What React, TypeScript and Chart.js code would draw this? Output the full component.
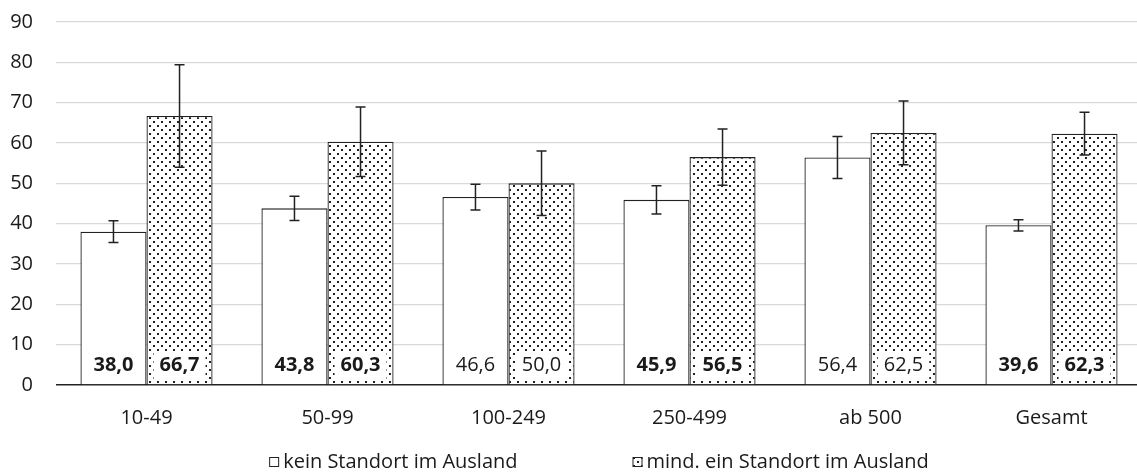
import React, { useEffect, useRef } from 'react';
import { Chart, registerables } from 'chart.js';

Chart.register(...registerables);

const categories = ['10-49', '50-99', '100-249', '250-499', 'ab 500', 'Gesamt'];
const seriesLabels = ['kein Standort im Ausland', 'mind. ein Standort im Ausland'];
const keinValues = [38.0, 43.8, 46.6, 45.9, 56.4, 39.6];
const mindValues = [66.7, 60.3, 50.0, 56.5, 62.5, 62.3];
const keinErrors = [2.7, 3.0, 3.2, 3.5, 5.2, 1.4];
const mindErrors = [12.7, 8.6, 8.0, 7.0, 7.9, 5.3];
const keinBold = [true, true, false, true, false, true];
const mindBold = [true, true, false, true, false, true];
const yMin = 0;
const yMax = 90;
const yStep = 10;

const FONT = '"Open Sans", "Noto Sans", sans-serif';
const TEXT = '#1a1a1a';

function makePattern(): CanvasPattern | string {
  const c = document.createElement('canvas');
  c.width = 8;
  c.height = 8;
  const g = c.getContext('2d');
  if (!g) return '#fff';
  g.fillStyle = '#ffffff';
  g.fillRect(0, 0, 8, 8);
  g.fillStyle = '#222222';
  g.fillRect(1, 1, 2, 2);
  g.fillRect(5, 5, 2, 2);
  const p = g.createPattern(c, 'repeat');
  return p || '#fff';
}

const fmt = (v: number) => v.toFixed(1).replace('.', ',');

export default function App() {
  const ref = useRef<HTMLCanvasElement | null>(null);

  useEffect(() => {
    if (!ref.current) return;
    const pattern = makePattern();
    const errors = [keinErrors, mindErrors];
    const bolds = [keinBold, mindBold];

    const errorBars = {
      id: 'errorBars',
      afterDatasetsDraw(chart: any) {
        const ctx = chart.ctx;
        const ys = chart.scales.y;
        ctx.save();
        ctx.strokeStyle = '#222';
        ctx.lineWidth = 1.5;
        chart.data.datasets.forEach((ds: any, di: number) => {
          const meta = chart.getDatasetMeta(di);
          meta.data.forEach((bar: any, i: number) => {
            const v = ds.data[i];
            const e = errors[di][i];
            const x = bar.x;
            const t = ys.getPixelForValue(v + e);
            const b = ys.getPixelForValue(v - e);
            ctx.beginPath();
            ctx.moveTo(x, t);
            ctx.lineTo(x, b);
            ctx.moveTo(x - 5, t);
            ctx.lineTo(x + 5, t);
            ctx.moveTo(x - 5, b);
            ctx.lineTo(x + 5, b);
            ctx.stroke();
          });
        });
        ctx.restore();
      },
    };

    const valueLabels = {
      id: 'valueLabels',
      afterDatasetsDraw(chart: any) {
        const ctx = chart.ctx;
        const ys = chart.scales.y;
        const y0 = ys.getPixelForValue(0);
        ctx.save();
        chart.data.datasets.forEach((ds: any, di: number) => {
          const meta = chart.getDatasetMeta(di);
          meta.data.forEach((bar: any, i: number) => {
            const txt = fmt(ds.data[i]);
            const bold = bolds[di][i];
            ctx.font = `${bold ? 'bold ' : ''}20px ${FONT}`;
            const w = ctx.measureText(txt).width;
            const cy = y0 - 20;
            ctx.fillStyle = '#ffffff';
            ctx.fillRect(bar.x - w / 2 - 6, cy - 14, w + 12, 28);
            ctx.fillStyle = TEXT;
            ctx.textAlign = 'center';
            ctx.textBaseline = 'middle';
            ctx.fillText(txt, bar.x, cy);
          });
        });
        ctx.restore();
      },
    };

    const customLegend = {
      id: 'customLegend',
      afterDraw(chart: any) {
        const ctx = chart.ctx;
        const area = chart.chartArea;
        ctx.save();
        ctx.font = `20px ${FONT}`;
        const box = 10;
        const gapText = 4;
        const gapItems = 115;
        const w1 = ctx.measureText(seriesLabels[0]).width;
        const w2 = ctx.measureText(seriesLabels[1]).width;
        const total = box + gapText + w1 + gapItems + box + gapText + w2;
        const cx = (area.left + area.right) / 2;
        let x = cx - total / 2;
        const y = 462;
        const fills = ['#ffffff', pattern];
        [w1, w2].forEach((w, i) => {
          ctx.fillStyle = fills[i];
          ctx.fillRect(x, y - box / 2, box, box);
          ctx.strokeStyle = '#222';
          ctx.lineWidth = 1;
          ctx.strokeRect(x + 0.5, y - box / 2 + 0.5, box - 1, box - 1);
          ctx.fillStyle = TEXT;
          ctx.textAlign = 'left';
          ctx.textBaseline = 'middle';
          ctx.fillText(seriesLabels[i], x + box + gapText, y);
          x += box + gapText + w + gapItems;
        });
        ctx.restore();
      },
    };

    const chart = new Chart(ref.current, {
      type: 'bar',
      data: {
        labels: categories,
        datasets: [
          {
            label: seriesLabels[0],
            data: keinValues,
            backgroundColor: '#ffffff',
            borderColor: '#222',
            borderWidth: 1.3,
            categoryPercentage: 0.73,
            barPercentage: 1,
          },
          {
            label: seriesLabels[1],
            data: mindValues,
            backgroundColor: pattern as any,
            borderColor: '#222',
            borderWidth: 1.3,
            categoryPercentage: 0.73,
            barPercentage: 1,
          },
        ],
      },
      options: {
        animation: false,
        responsive: true,
        maintainAspectRatio: false,
        layout: { padding: { top: 22, right: 1, left: 0, bottom: 0 } },
        plugins: {
          legend: { display: false },
          tooltip: { enabled: false },
        },
        scales: {
          x: {
            grid: { display: false, drawTicks: false },
            border: { display: false },
            ticks: { font: { family: FONT, size: 20 }, color: TEXT, padding: 21 },
            afterFit(scale: any) {
              scale.height = 90;
            },
          },
          y: {
            min: yMin,
            max: yMax,
            ticks: { stepSize: yStep, font: { family: FONT, size: 20 }, color: TEXT, padding: 0 },
            grid: {
              drawTicks: true,
              tickLength: 23,
              tickColor: 'rgba(0,0,0,0)',
              color: (c: any) => (c.tick && c.tick.value === 0 ? '#222' : '#d9d9d9'),
              lineWidth: (c: any) => (c.tick && c.tick.value === 0 ? 1.6 : 1.3),
            },
            border: { display: false },
            afterFit(scale: any) {
              scale.width = 56;
            },
          },
        },
      },
      plugins: [errorBars, valueLabels, customLegend],
    });
    return () => chart.destroy();
  }, []);

  return (
    <div style={{ position: 'absolute', left: 0, top: 0, width: 1137, height: 475, overflow: 'hidden', background: '#fff' }}>
      <div style={{ position: 'relative', width: 1143, height: 475 }}>
        <canvas ref={ref} />
      </div>
    </div>
  );
}
